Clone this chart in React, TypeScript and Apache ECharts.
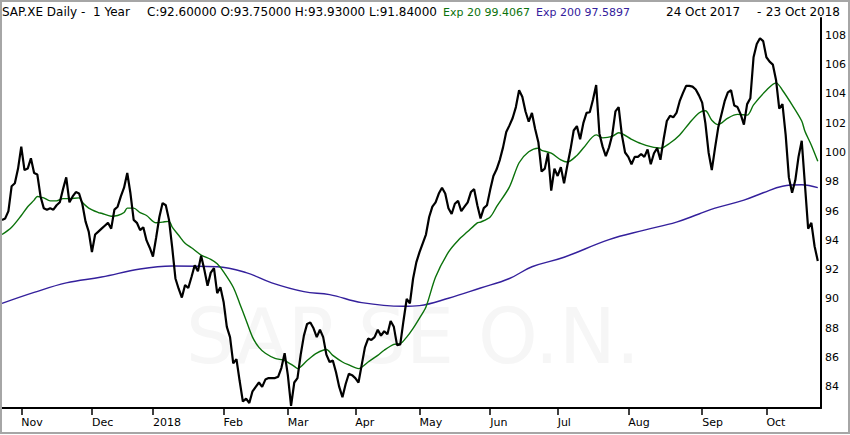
import React, { useEffect, useRef } from "react";
import * as echarts from "echarts";

const FONT = "DejaVu Sans";

// Xetra trading calendar (categories)
const START_DATE = "2017-10-24";
const END_DATE = "2018-10-24";
const HOLIDAYS = ["2017-12-25", "2017-12-26", "2018-01-01", "2018-03-30", "2018-04-02", "2018-05-01"];

function tradingDays(start: string, end: string): string[] {
  const out: string[] = [];
  const [sy, sm, sd] = start.split("-").map(Number);
  const [ey, em, ed] = end.split("-").map(Number);
  let t = Date.UTC(sy, sm - 1, sd);
  const stop = Date.UTC(ey, em - 1, ed);
  while (t <= stop) {
    const d = new Date(t);
    const wd = d.getUTCDay();
    const iso = d.toISOString().slice(0, 10);
    if (wd !== 0 && wd !== 6 && !HOLIDAYS.includes(iso)) out.push(iso);
    t += 86400000;
  }
  return out;
}

const categories = tradingDays(START_DATE, END_DATE);

const monthLabels = ["Nov", "Dec", "2018", "Feb", "Mar", "Apr", "May", "Jun", "Jul", "Aug", "Sep", "Oct"];

const yTicks = [84, 86, 88, 90, 92, 94, 96, 98, 100, 102, 104, 106, 108];

// Daily closes
const closes = [
  95.4, 95.5, 96.0, 97.7, 97.9, 98.9, 100.4, 98.8, 98.9, 99.6,
  98.6, 98.5, 97.0, 96.2, 96.1, 96.2, 96.1, 96.4, 96.6, 97.5,
  98.3, 96.6, 97.0, 97.3, 97.2, 96.5, 95.3, 94.6, 93.2, 94.4,
  94.6, 94.8, 95.0, 95.2, 94.8, 96.1, 96.3, 97.0, 97.6, 98.6,
  97.2, 95.4, 95.2, 94.7, 94.9, 94.0, 93.5, 92.9, 94.2, 95.6,
  96.55, 96.4, 95.4, 93.5, 91.4, 90.7, 90.1, 90.95, 90.75, 91.5,
  92.3, 91.9, 92.95, 92.0, 90.9, 91.8, 92.1, 90.4, 90.8, 89.8,
  88.1, 87.4, 85.6, 85.9, 84.4, 83.0, 83.2, 82.9, 83.7, 84.0,
  84.3, 84.0, 84.5, 84.6, 84.6, 84.6, 84.7, 85.3, 86.3, 84.8,
  82.7, 84.3, 84.6, 86.2, 87.5, 88.3, 88.4, 88.0, 87.4, 87.9,
  87.4, 86.2, 85.7, 85.8, 85.0, 84.0, 83.3, 84.2, 84.9, 84.8,
  84.6, 84.3, 85.5, 86.7, 87.3, 87.2, 87.4, 87.9, 87.5, 87.8,
  87.6, 88.5, 88.1, 86.85, 86.9, 88.5, 90.0, 89.7, 91.4, 92.5,
  93.2, 93.8, 94.4, 95.6, 96.3, 96.6, 97.2, 97.6, 97.2, 96.2,
  95.8, 96.5, 96.7, 96.0, 96.3, 96.6, 97.3, 97.5, 96.4, 95.5,
  96.2, 96.4, 97.45, 98.4, 98.85, 99.5, 100.35, 101.4, 101.85, 102.35,
  103.1, 104.25, 103.8, 102.8, 102.1, 102.7, 101.6, 100.7, 98.7, 98.9,
  99.95, 97.4, 98.9, 98.4, 99.0, 97.9, 99.1, 100.2, 101.5, 101.8,
  100.9, 102.0, 102.7, 102.75, 103.6, 104.6, 101.3, 100.4, 99.75, 100.35,
  101.2, 102.8, 103.1, 101.2, 100.0, 99.7, 99.2, 99.7, 99.7, 99.9,
  99.7, 100.2, 99.2, 99.95, 100.3, 99.5, 100.9, 102.15, 102.5, 102.4,
  102.7, 103.5, 104.05, 104.55, 104.55, 104.5, 104.3, 103.9, 103.4, 102.0,
  100.0, 98.8, 100.3, 101.7, 102.6, 103.5, 104.1, 104.25, 103.2, 103.1,
  102.6, 101.9, 103.3, 103.7, 106.5, 107.4, 107.8, 107.6, 106.5, 106.2,
  106.0, 104.95, 103.0, 103.3, 101.2, 98.3, 97.25, 98.1, 99.7, 100.8,
  97.8, 94.8, 95.2, 93.6, 92.6,
];

// Exp 20 read at [trading-day index, value]
const ema20Points: [number, number][] = [
  [0, 94.4], [3, 94.9], [6, 95.7], [8, 96.3], [10, 96.75], [11, 97.0], [13, 96.9], [15, 96.7],
  [17, 96.7], [19, 96.85], [21, 96.85], [24, 96.9], [25, 96.6], [27, 96.2], [30, 95.9], [31, 95.85],
  [34, 95.65], [36, 95.7], [38, 95.9], [39, 96.2], [41, 96.2], [43, 95.9], [45, 95.7], [48, 95.2],
  [50, 95.25], [52, 95.3], [53, 94.9], [55, 94.35], [57, 93.8], [59, 93.5], [62, 93.0], [65, 92.7],
  [67, 92.4], [69, 91.85], [72, 90.8], [74, 89.7], [76, 88.55], [78, 87.4], [80, 86.7], [82, 86.3],
  [85, 85.95], [88, 85.8], [91, 85.4], [92, 85.25], [95, 85.8], [98, 86.3], [101, 86.55], [103, 86.15],
  [106, 85.7], [108, 85.5], [111, 85.25], [114, 85.7], [117, 86.15], [119, 86.5], [122, 86.9], [124, 86.95],
  [126, 87.4], [128, 88.0], [130, 88.7], [132, 89.45], [135, 91.5], [139, 93.2], [142, 94.0], [145, 94.6],
  [148, 95.2], [149, 95.25], [152, 95.6], [154, 96.3], [158, 97.65], [161, 99.3], [164, 100.05], [167, 100.3],
  [168, 100.15], [171, 99.95], [174, 99.5], [176, 99.35], [179, 99.8], [181, 100.3], [185, 101.2], [187, 101.0],
  [190, 101.1], [192, 101.35], [196, 100.9], [199, 100.6], [202, 100.4], [205, 100.3], [208, 100.65], [211, 101.2],
  [214, 102.0], [217, 102.7], [219, 102.85], [221, 102.2], [223, 101.9], [226, 102.35], [229, 102.6], [232, 102.55],
  [234, 103.25], [238, 104.25], [241, 104.75], [243, 104.25], [246, 103.25], [249, 102.15], [250, 101.45], [252, 100.5],
  [254, 99.4],
];

// Exp 200 read at [trading-day index, value]
const ema200Points: [number, number][] = [
  [0, 89.7], [10, 90.45], [20, 91.1], [31, 91.5], [43, 92.05], [53, 92.25], [67, 92.2], [76, 91.8],
  [84, 91.1], [94, 90.5], [102, 90.3], [112, 89.75], [125, 89.5], [130, 89.55], [139, 90.05], [149, 90.75],
  [158, 91.4], [165, 92.2], [175, 92.85], [189, 94.05], [200, 94.7], [210, 95.25], [217, 95.8], [222, 96.2],
  [231, 96.75], [237, 97.25], [243, 97.7], [249, 97.8], [254, 97.6],
];

const headerName = "SAP.XE Daily -\u00a0 1 Year";
const headerOHLC = "C:92.60000 O:93.75000 H:93.93000 L:91.84000";
const headerExp20 = "Exp 20 99.4067";
const headerExp200 = "Exp 200 97.5897";
const headerFrom = "24 Oct 2017";
const headerTo = "23 Oct 2018";
const watermark = "SAP SE O.N.";

const GREEN = "#0b720b";
const PURPLE = "#34209c";

export default function App() {
  const ref = useRef<HTMLDivElement>(null);

  useEffect(() => {
    if (!ref.current) return;
    const chart = echarts.init(ref.current, undefined, { renderer: "svg" });

    // first trading day of each month -> tick
    const tickLabel = new Map<number, string>();
    let m = 0;
    for (let i = 1; i < categories.length; i++) {
      if (categories[i].slice(5, 7) !== categories[i - 1].slice(5, 7)) {
        if (m < monthLabels.length) tickLabel.set(i, monthLabels[m]);
        m++;
      }
    }

    const ts = (fill: string, size = 11) => ({
      fill,
      fontFamily: FONT,
      fontSize: size,
      verticalAlign: "middle",
    });

    chart.setOption({
      animation: false,
      backgroundColor: "#ffffff",
      grid: { left: 2, right: 29, top: 18, bottom: 27, containLabel: false },
      xAxis: {
        type: "category",
        data: categories,
        boundaryGap: false,
        axisLine: { show: true, onZero: false, lineStyle: { color: "#000", width: 2 } },
        axisTick: {
          show: true,
          interval: (i: number) => tickLabel.has(i),
          length: 7,
          lineStyle: { color: "#000", width: 1.5 },
        },
        axisLabel: {
          show: true,
          interval: (i: number) => tickLabel.has(i),
          formatter: (_v: string, i: number) => tickLabel.get(i) ?? "",
          align: "left",
          margin: 9,
          color: "#000",
          fontSize: 11,
          fontFamily: FONT,
        },
        splitLine: { show: false },
      },
      yAxis: {
        type: "value",
        position: "right",
        min: 82.56,
        max: 109.18,
        axisLine: { show: true, lineStyle: { color: "#000", width: 2 } },
        axisTick: { show: false },
        axisLabel: {
          customValues: yTicks,
          margin: 4,
          color: "#000",
          fontSize: 11,
          fontFamily: FONT,
        },
        splitLine: { show: false },
      },
      graphic: [
        {
          type: "text",
          x: 413,
          y: 336,
          z: 0,
          silent: true,
          style: {
            text: watermark,
            fill: "#f6f6f6",
            fontFamily: FONT,
            fontSize: 76,
            align: "center",
            verticalAlign: "middle",
          },
        },
        { type: "text", x: 2, y: 12, silent: true, style: { text: headerName, ...ts("#000", 12) } },
        { type: "text", x: 147, y: 12, silent: true, style: { text: headerOHLC, ...ts("#000", 12) } },
        { type: "text", x: 443, y: 12, silent: true, style: { text: headerExp20, ...ts(GREEN) } },
        { type: "text", x: 536, y: 12, silent: true, style: { text: headerExp200, ...ts(PURPLE) } },
        { type: "text", x: 666, y: 12, silent: true, style: { text: headerFrom, ...ts("#000", 12) } },
        { type: "text", x: 757, y: 12, silent: true, style: { text: "-", ...ts("#000", 12) } },
        {
          type: "text",
          x: 840,
          y: 12,
          silent: true,
          style: { text: headerTo, ...ts("#000", 12), align: "right" },
        },
        {
          type: "rect",
          silent: true,
          z: 10,
          shape: { x: 1, y: 1, width: 848, height: 432 },
          style: { fill: "none", stroke: "#a6a6a6", lineWidth: 2 },
        },
      ],
      series: [
        {
          name: "Exp 200",
          type: "line",
          data: ema200Points,
          smooth: 0.4,
          symbol: "none",
          z: 2,
          lineStyle: { color: PURPLE, width: 1.4 },
        },
        {
          name: "Exp 20",
          type: "line",
          data: ema20Points,
          smooth: 0.3,
          symbol: "none",
          z: 2,
          lineStyle: { color: GREEN, width: 1.4 },
        },
        {
          name: "SAP.XE",
          type: "line",
          data: closes,
          symbol: "none",
          z: 3,
          lineStyle: { color: "#000", width: 2.2 },
        },
      ],
    });

    return () => chart.dispose();
  }, []);

  return (
    <div
      ref={ref}
      style={{ position: "absolute", left: 0, top: 0, width: 850, height: 435, background: "#fff" }}
    />
  );
}
